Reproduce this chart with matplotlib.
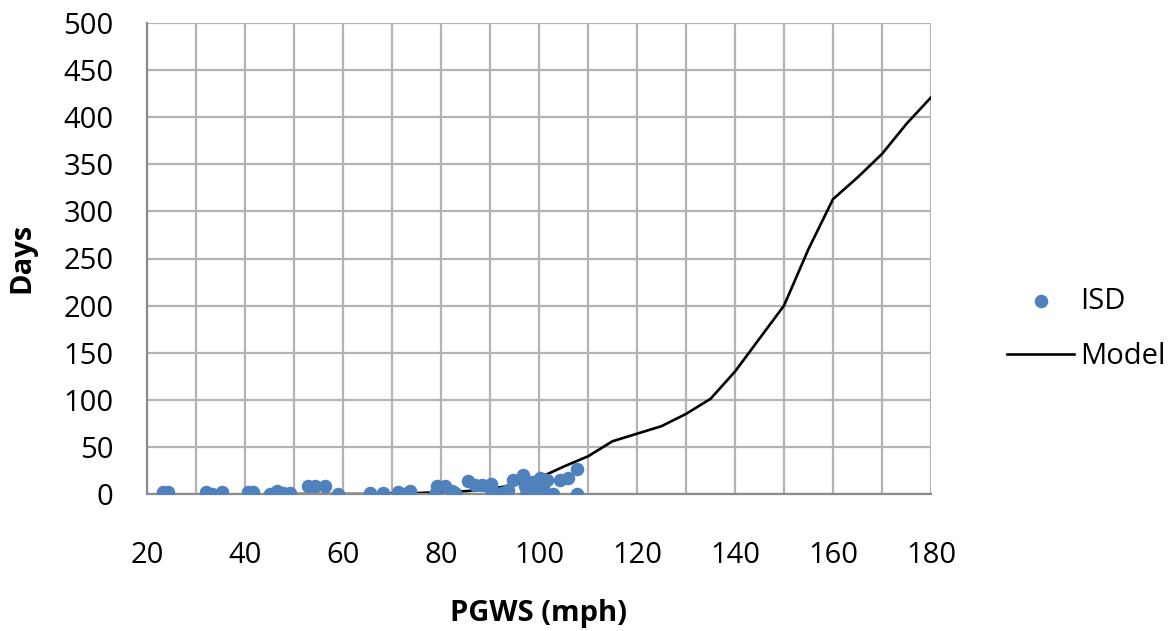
import matplotlib
matplotlib.use("Agg")
import matplotlib.pyplot as plt

plt.rcParams['font.family'] = ['Open Sans', 'DejaVu Sans']

# Observed ISD points: peak gust wind speed (mph) vs. days
isd_speed = [23.3, 24.3, 32.0, 33.2, 35.4, 40.7, 41.7, 45.1, 46.5, 47.8, 49.2,
             52.9, 54.3, 56.3, 59.0, 65.5, 68.2, 71.3, 72.3, 73.7, 78.8, 79.1,
             80.8, 82.2, 82.8, 85.6, 86.9, 88.3, 90.0, 90.3, 91.0, 92.4, 93.7,
             94.6, 96.8, 97.1, 97.4, 98.0, 98.5, 99.2, 99.5, 100.2, 100.9,
             101.6, 102.9, 104.3, 106.0, 107.7, 107.7]
isd_days = [2, 2, 2, 0, 2.5, 2, 2, 0, 3.5, 0.7, 0.7,
            8.5, 8.5, 8.5, 0, 0.7, 0.7, 2.5, 0, 3.5, 0, 8.5,
            8.5, 3.5, 1.5, 14, 10, 10, 6, 11, 1, 0.7, 4,
            15, 20, 8, 0, 4, 13, 0, 3, 16.6, 6,
            15, 0, 15, 16.6, 27, 0]

# Model curve
model_speed = [50, 55, 60, 65, 70, 75, 80, 85, 90, 95, 100, 105, 110, 115,
               120, 125, 130, 135, 140, 145, 150, 155, 160, 165, 170, 175, 180]
model_days = [0, 0, 0, 0, 0.5, 1, 2, 3, 5, 10, 17, 29, 40, 56,
              64, 72, 85, 101, 130, 165, 200, 260, 313, 336, 361, 393, 421]

x_ticks = [20, 40, 60, 80, 100, 120, 140, 160, 180]
y_ticks = [0, 50, 100, 150, 200, 250, 300, 350, 400, 450, 500]

W, H = 1174, 631
fig = plt.figure(figsize=(W / 100, H / 100), dpi=100)
ax = fig.add_axes([147 / W, 1 - 494 / H, (931 - 147) / W, (494 - 23) / H])

ax.set_xlim(20, 180)
ax.set_ylim(0, 500)
ax.set_xticks(x_ticks)
ax.set_xticks(range(20, 181, 10), minor=True)
ax.set_yticks(y_ticks)

grid_col = '#b3b3b3'
ax.grid(True, which='both', color=grid_col, linewidth=1.6, zorder=0)
ax.set_axisbelow(True)
for side in ['top', 'right']:
    ax.spines[side].set_visible(False)
for side in ['left', 'bottom']:
    ax.spines[side].set_color('#8c8c8c')
    ax.spines[side].set_linewidth(1.6)

ax.tick_params(axis='both', which='both', length=0, labelsize=21)
ax.tick_params(axis='y', pad=24)
ax.tick_params(axis='x', pad=34)

ax.scatter(isd_speed, isd_days, s=95, color='#4f81bd', label='ISD',
           zorder=3, linewidths=0)
ax.plot(model_speed, model_days, color='black', linewidth=1.9,
        label='Model', zorder=2)

fig.text(22 / W, 1 - 258 / H, 'Days', rotation=90, fontsize=21,
         fontweight='bold', ha='center', va='center')
fig.text(538 / W, 1 - 613 / H, 'PGWS (mph)', fontsize=21,
         fontweight='bold', ha='center', va='center')

fig.legend(loc='center left', bbox_to_anchor=(1007 / W, 1 - 329 / H),
           frameon=False, fontsize=21, handlelength=2.3, handletextpad=0.2,
           labelspacing=0.9, borderpad=0, borderaxespad=0)

fig.savefig('out.png', dpi=100)
